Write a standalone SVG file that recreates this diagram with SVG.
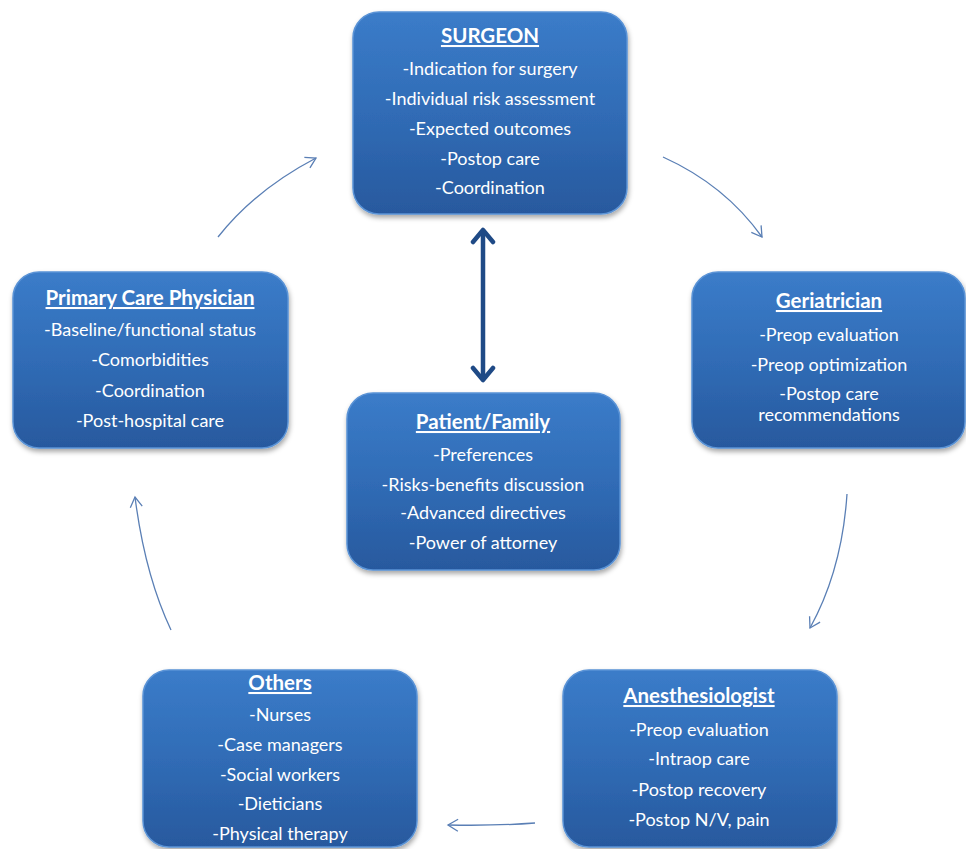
<svg xmlns="http://www.w3.org/2000/svg" width="966" height="849" viewBox="0 0 966 849">
<defs>
<linearGradient id="boxg" x1="0" y1="0" x2="0" y2="1">
<stop offset="0" stop-color="#3b7cc9"/>
<stop offset="0.5" stop-color="#306cb6"/>
<stop offset="1" stop-color="#28599e"/>
</linearGradient>
<filter id="sh" x="-10%" y="-10%" width="120%" height="125%">
<feDropShadow dx="1" dy="3" stdDeviation="2.5" flood-color="#000" flood-opacity="0.35"/>
</filter>
<marker id="thin" markerWidth="14" markerHeight="14" refX="12" refY="7" orient="auto" markerUnits="userSpaceOnUse">
<path d="M2,1 L12,7 L2,13" fill="none" stroke="#5a7fb5" stroke-width="1.3"/>
</marker>
<marker id="thick" markerWidth="26" markerHeight="26" refX="20" refY="13" orient="auto-start-reverse" markerUnits="userSpaceOnUse">
<path d="M8,3 L20,13 L8,23" fill="none" stroke="#1f4a86" stroke-width="4.5" stroke-linecap="round" stroke-linejoin="round"/>
</marker>
</defs>
<style>
.box{fill:url(#boxg);stroke:#5a93d6;stroke-width:1.5;filter:url(#sh)}
.t{font-family:Lato,"Open Sans","Liberation Sans",sans-serif;fill:#fff;text-anchor:middle}
.h{font-size:20.5px;font-weight:bold;text-decoration:underline}
.l{font-size:18px}
.c{fill:none;stroke:#5a7fb5;stroke-width:1.3}
</style>
<rect width="966" height="849" fill="#fff"/>
<g id="connectors">
<path class="c" d="M218,237 Q255,190 316,158" marker-end="url(#thin)"/>
<path class="c" d="M663,157 Q725,185 762,237" marker-end="url(#thin)"/>
<path class="c" d="M847,494 Q842,570 810,628" marker-end="url(#thin)"/>
<path class="c" d="M535,823 Q495,826 448,825" marker-end="url(#thin)"/>
<path class="c" d="M171,630 Q145,575 135,497" marker-end="url(#thin)"/>
<path d="M483,230 L483,380" fill="none" stroke="#1f4a86" stroke-width="4.5" marker-start="url(#thick)" marker-end="url(#thick)"/>
</g>
<g id="surgeon">
<rect class="box" x="353" y="12" width="274" height="202" rx="26"/>
<text class="t h" x="490" y="43">SURGEON</text>
<text class="t l" x="490" y="75">-Indication for surgery</text>
<text class="t l" x="490" y="105">-Individual risk assessment</text>
<text class="t l" x="490" y="135">-Expected outcomes</text>
<text class="t l" x="490" y="165">-Postop care</text>
<text class="t l" x="490" y="194">-Coordination</text>
</g>
<g id="geriatrician">
<rect class="box" x="692" y="272" width="273" height="176" rx="26"/>
<text class="t h" x="829" y="308">Geriatrician</text>
<text class="t l" x="829" y="341">-Preop evaluation</text>
<text class="t l" x="829" y="371">-Preop optimization</text>
<text class="t l" x="829" y="400">-Postop care</text>
<text class="t l" x="829" y="421">recommendations</text>
</g>
<g id="primary-care">
<rect class="box" x="13" y="272" width="275" height="176" rx="26"/>
<text class="t h" x="150" y="305">Primary Care Physician</text>
<text class="t l" x="150" y="336">-Baseline/functional status</text>
<text class="t l" x="150" y="366">-Comorbidities</text>
<text class="t l" x="150" y="397">-Coordination</text>
<text class="t l" x="150" y="427">-Post-hospital care</text>
</g>
<g id="patient-family">
<rect class="box" x="347" y="393" width="273" height="177" rx="26"/>
<text class="t h" x="483" y="429">Patient/Family</text>
<text class="t l" x="483" y="461">-Preferences</text>
<text class="t l" x="483" y="491">-Risks-benefits discussion</text>
<text class="t l" x="483" y="519">-Advanced directives</text>
<text class="t l" x="483" y="549">-Power of attorney</text>
</g>
<g id="others">
<rect class="box" x="143" y="670" width="274" height="177" rx="26"/>
<text class="t h" x="280" y="690">Others</text>
<text class="t l" x="280" y="721">-Nurses</text>
<text class="t l" x="280" y="751">-Case managers</text>
<text class="t l" x="280" y="781">-Social workers</text>
<text class="t l" x="280" y="810">-Dieticians</text>
<text class="t l" x="280" y="840">-Physical therapy</text>
</g>
<g id="anesthesiologist">
<rect class="box" x="563" y="670" width="274" height="177" rx="26"/>
<text class="t h" x="699" y="703">Anesthesiologist</text>
<text class="t l" x="699" y="736">-Preop evaluation</text>
<text class="t l" x="699" y="765">-Intraop care</text>
<text class="t l" x="699" y="796">-Postop recovery</text>
<text class="t l" x="699" y="826">-Postop N/V, pain</text>
</g>
</svg>
